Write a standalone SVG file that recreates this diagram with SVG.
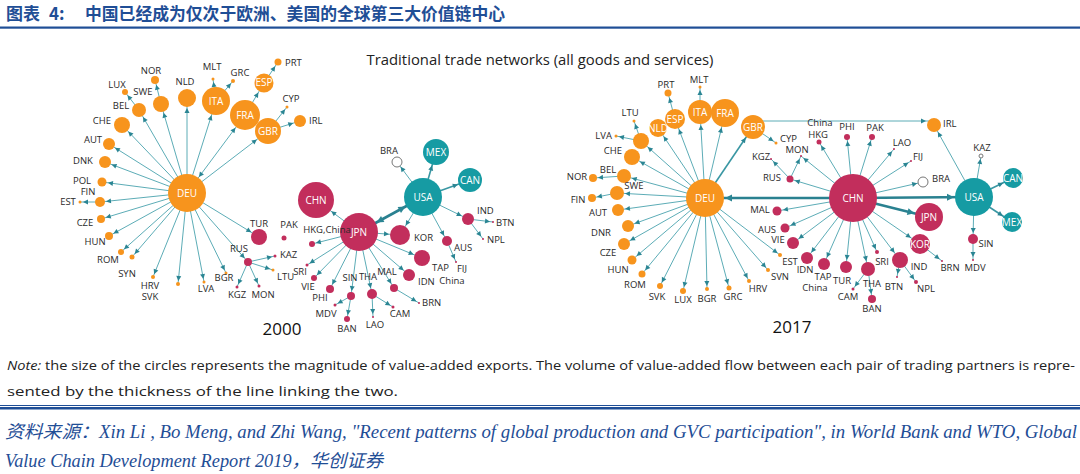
<svg xmlns="http://www.w3.org/2000/svg" width="1080" height="474" viewBox="0 0 1080 474">
<style>
.o{fill:#F7941D}.c{fill:#C22E5C}.t{fill:#169BA3}.h{fill:#fff;stroke:#777;stroke-width:1}
.lb{font-family:"Open Sans","Liberation Sans",sans-serif;font-size:9.5px;fill:#2a2a2a;text-anchor:middle}
.l{text-anchor:start}.r{text-anchor:end}
.w{font-family:"Open Sans","Liberation Sans",sans-serif;font-size:10px;fill:#fff;text-anchor:middle}
.e line,.e path{stroke:#4aa3ae;stroke-width:0.9;fill:none}
.e .m{stroke-width:1.6;stroke:#3a97a3}
.e .E{stroke:#2a8190;stroke-width:2.6}
.ah{fill:#2a8593}
.yr{font-family:"Open Sans","Liberation Sans",sans-serif;font-size:17px;fill:#111;text-anchor:middle}
.src{font-family:"Liberation Serif","Noto Sans CJK SC",serif;font-style:italic;font-size:18px;fill:#1F4E96}
.note{font-family:"Open Sans","Liberation Sans",sans-serif;font-size:13px;fill:#222}
</style>
<defs>
<marker id="a2" markerUnits="userSpaceOnUse" markerWidth="5" markerHeight="5" refX="8" refY="2.5" orient="auto" overflow="visible"><path class="ah" d="M0,0L5,2.5L0,5z"/></marker>
<marker id="a3" markerUnits="userSpaceOnUse" markerWidth="5" markerHeight="5" refX="9" refY="2.5" orient="auto" overflow="visible"><path class="ah" d="M0,0L5,2.5L0,5z"/></marker>
<marker id="a4" markerUnits="userSpaceOnUse" markerWidth="5" markerHeight="5" refX="10" refY="2.5" orient="auto" overflow="visible"><path class="ah" d="M0,0L5,2.5L0,5z"/></marker>
<marker id="a5" markerUnits="userSpaceOnUse" markerWidth="5" markerHeight="5" refX="11" refY="2.5" orient="auto" overflow="visible"><path class="ah" d="M0,0L5,2.5L0,5z"/></marker>
<marker id="a6" markerUnits="userSpaceOnUse" markerWidth="5" markerHeight="5" refX="12" refY="2.5" orient="auto" overflow="visible"><path class="ah" d="M0,0L5,2.5L0,5z"/></marker>
<marker id="a7" markerUnits="userSpaceOnUse" markerWidth="5" markerHeight="5" refX="13" refY="2.5" orient="auto" overflow="visible"><path class="ah" d="M0,0L5,2.5L0,5z"/></marker>
<marker id="a8" markerUnits="userSpaceOnUse" markerWidth="5" markerHeight="5" refX="14" refY="2.5" orient="auto" overflow="visible"><path class="ah" d="M0,0L5,2.5L0,5z"/></marker>
<marker id="a9" markerUnits="userSpaceOnUse" markerWidth="5" markerHeight="5" refX="15" refY="2.5" orient="auto" overflow="visible"><path class="ah" d="M0,0L5,2.5L0,5z"/></marker>
<marker id="a10" markerUnits="userSpaceOnUse" markerWidth="5" markerHeight="5" refX="16" refY="2.5" orient="auto" overflow="visible"><path class="ah" d="M0,0L5,2.5L0,5z"/></marker>
<marker id="a12" markerUnits="userSpaceOnUse" markerWidth="5" markerHeight="5" refX="18" refY="2.5" orient="auto" overflow="visible"><path class="ah" d="M0,0L5,2.5L0,5z"/></marker>
<marker id="a13" markerUnits="userSpaceOnUse" markerWidth="5" markerHeight="5" refX="19" refY="2.5" orient="auto" overflow="visible"><path class="ah" d="M0,0L5,2.5L0,5z"/></marker>
<marker id="a14" markerUnits="userSpaceOnUse" markerWidth="5" markerHeight="5" refX="20" refY="2.5" orient="auto" overflow="visible"><path class="ah" d="M0,0L5,2.5L0,5z"/></marker>
<marker id="a15" markerUnits="userSpaceOnUse" markerWidth="5" markerHeight="5" refX="21" refY="2.5" orient="auto" overflow="visible"><path class="ah" d="M0,0L5,2.5L0,5z"/></marker>
<marker id="a18" markerUnits="userSpaceOnUse" markerWidth="5" markerHeight="5" refX="24" refY="2.5" orient="auto" overflow="visible"><path class="ah" d="M0,0L5,2.5L0,5z"/></marker>
<marker id="b19" markerUnits="userSpaceOnUse" markerWidth="5" markerHeight="5" refX="25" refY="2.5" orient="auto-start-reverse" overflow="visible"><path class="ah" d="M0,0L5,2.5L0,5z"/></marker>
<marker id="T19" markerUnits="userSpaceOnUse" markerWidth="7" markerHeight="7" refX="27" refY="3.5" orient="auto-start-reverse" overflow="visible"><path class="ah" d="M0,0L7,3.5L0,7z"/></marker>
<marker id="T14" markerUnits="userSpaceOnUse" markerWidth="7" markerHeight="7" refX="22" refY="3.5" orient="auto" overflow="visible"><path class="ah" d="M0,0L7,3.5L0,7z"/></marker>
</defs>
<rect width="1080" height="474" fill="#fff"/>
<g id="title">
<text y="20" font-family="'Noto Sans CJK SC',sans-serif" font-weight="bold" font-size="17" fill="#1F4E96"><tspan x="6">图表</tspan><tspan x="49">4:</tspan><tspan x="85" textLength="420" lengthAdjust="spacingAndGlyphs">中国已经成为仅次于欧洲、美国的全球第三大价值链中心</tspan></text>
<rect x="0" y="26.5" width="1080" height="2.2" fill="#1F4E96"/>
</g>
<text x="540" y="65" font-family="'Open Sans','Liberation Sans',sans-serif" font-size="14" fill="#222" text-anchor="middle" textLength="347" lengthAdjust="spacingAndGlyphs">Traditional trade networks (all goods and services)</text>

<g id="connectors" class="e">
<!-- 2000 -->
<line x1="187" y1="193" x2="187" y2="98" marker-end="url(#a9)"/>
<line x1="187" y1="193" x2="216" y2="101" marker-end="url(#a14)"/>
<line x1="187" y1="193" x2="245" y2="115" marker-end="url(#a15)" marker-start="url(#b19)"/>
<line x1="187" y1="193" x2="268" y2="131" marker-end="url(#a13)"/>
<line x1="187" y1="193" x2="161" y2="104" marker-end="url(#a8)"/>
<line x1="187" y1="193" x2="139" y2="110" marker-end="url(#a7)"/>
<line x1="187" y1="193" x2="122" y2="125" marker-end="url(#a8)"/>
<line x1="187" y1="193" x2="109" y2="144" marker-end="url(#a6)"/>
<line x1="187" y1="193" x2="105" y2="162" marker-end="url(#a6)"/>
<line x1="187" y1="193" x2="102" y2="182" marker-end="url(#a5)"/>
<line x1="187" y1="193" x2="100" y2="202" marker-end="url(#a5)"/>
<line x1="187" y1="193" x2="101" y2="219" marker-end="url(#a4)"/>
<line x1="187" y1="193" x2="109" y2="236" marker-end="url(#a4)"/>
<line x1="187" y1="193" x2="121" y2="252" marker-end="url(#a3)"/>
<line x1="187" y1="193" x2="132" y2="257" marker-end="url(#a3)"/>
<line x1="187" y1="193" x2="153" y2="277" marker-end="url(#a2)"/>
<line x1="187" y1="193" x2="178" y2="284" marker-end="url(#a2)"/>
<line x1="187" y1="193" x2="204" y2="282" marker-end="url(#a2)"/>
<line x1="187" y1="193" x2="226" y2="273" marker-end="url(#a2)"/>
<line x1="187" y1="193" x2="259" y2="237" marker-end="url(#a8)"/>
<line x1="187" y1="193" x2="248" y2="262" marker-end="url(#a4)"/>
<line x1="161" y1="104" x2="155" y2="80" marker-end="url(#a4)"/>
<line x1="139" y1="110" x2="125" y2="92" marker-end="url(#a3)"/>
<line x1="100" y1="202" x2="80" y2="202" marker-end="url(#a2)"/>
<line x1="216" y1="101" x2="213" y2="79" marker-end="url(#a2)"/>
<line x1="216" y1="101" x2="233" y2="81" marker-end="url(#a2)"/>
<line x1="245" y1="115" x2="264" y2="83" marker-end="url(#a10)"/>
<line x1="264" y1="83" x2="278" y2="62" marker-end="url(#a4)"/>
<line x1="268" y1="131" x2="287" y2="107" marker-end="url(#a2)"/>
<line x1="268" y1="131" x2="300" y2="121" marker-end="url(#a6)"/>
<line x1="248" y1="262" x2="237" y2="287" marker-end="url(#a2)"/>
<line x1="248" y1="262" x2="259" y2="286" marker-end="url(#a2)"/>
<line x1="248" y1="262" x2="275" y2="256" marker-end="url(#a2)"/>
<line x1="248" y1="262" x2="273" y2="270" marker-end="url(#a2)"/>
<line x1="359" y1="232" x2="316" y2="200" marker-end="url(#a18)"/>
<line x1="359" y1="232" x2="312" y2="244" marker-end="url(#a3)"/>
<line x1="359" y1="232" x2="307" y2="265" marker-end="url(#a2)"/>
<line x1="359" y1="232" x2="314" y2="278" marker-end="url(#a3)"/>
<line x1="359" y1="232" x2="330" y2="289" marker-end="url(#a4)"/>
<line x1="359" y1="232" x2="351" y2="296" marker-end="url(#a4)"/>
<line x1="359" y1="232" x2="372" y2="294" marker-end="url(#a5)"/>
<line x1="359" y1="232" x2="394" y2="288" marker-end="url(#a4)"/>
<line x1="359" y1="232" x2="409" y2="275" marker-end="url(#a6)"/>
<line x1="359" y1="232" x2="422" y2="258" marker-end="url(#a8)"/>
<line x1="359" y1="232" x2="400" y2="235" marker-end="url(#a10)"/>
<line class="E" x1="359" y1="232" x2="423" y2="197" marker-end="url(#T19)" marker-start="url(#T19)"/>
<line x1="351" y1="296" x2="335" y2="305" marker-end="url(#a2)"/>
<line x1="351" y1="296" x2="347" y2="319" marker-end="url(#a3)"/>
<line x1="372" y1="294" x2="393" y2="307" marker-end="url(#a2)"/>
<line x1="372" y1="294" x2="373" y2="317" marker-end="url(#a2)"/>
<line x1="394" y1="288" x2="419" y2="303" marker-end="url(#a2)"/>
<line x1="423" y1="197" x2="397" y2="162" marker-end="url(#a5)"/>
<line class="m" x1="423" y1="197" x2="436" y2="152" marker-end="url(#a13)"/>
<line class="m" x1="423" y1="197" x2="470" y2="180" marker-end="url(#a12)"/>
<line x1="423" y1="197" x2="400" y2="235" marker-end="url(#a10)"/>
<line x1="423" y1="197" x2="447" y2="241" marker-end="url(#a5)"/>
<line x1="423" y1="197" x2="468" y2="219" marker-end="url(#a6)"/>
<line x1="468" y1="219" x2="493" y2="222" marker-end="url(#a2)"/>
<line x1="468" y1="219" x2="483" y2="239" marker-end="url(#a2)"/>
<line x1="447" y1="241" x2="456" y2="262" marker-end="url(#a2)"/>
<!-- 2017 -->
<line x1="705" y1="198" x2="658" y2="128" marker-end="url(#a9)"/>
<line x1="705" y1="198" x2="675" y2="119" marker-end="url(#a10)"/>
<line x1="705" y1="198" x2="700" y2="112" marker-end="url(#a12)"/>
<line x1="705" y1="198" x2="725" y2="113" marker-end="url(#a14)"/>
<line class="m" x1="705" y1="198" x2="753" y2="127" marker-end="url(#a12)"/>
<line x1="705" y1="198" x2="641" y2="141" marker-end="url(#a8)"/>
<line x1="705" y1="198" x2="632" y2="157" marker-end="url(#a8)"/>
<line x1="705" y1="198" x2="624" y2="176" marker-end="url(#a7)"/>
<line x1="705" y1="198" x2="617" y2="193" marker-end="url(#a7)"/>
<line x1="705" y1="198" x2="618" y2="210" marker-end="url(#a6)"/>
<line x1="705" y1="198" x2="628" y2="226" marker-end="url(#a6)"/>
<line x1="705" y1="198" x2="624" y2="244" marker-end="url(#a6)"/>
<line x1="705" y1="198" x2="632" y2="260" marker-end="url(#a5)"/>
<line x1="705" y1="198" x2="642" y2="274" marker-end="url(#a4)"/>
<line x1="705" y1="198" x2="660" y2="286" marker-end="url(#a3)"/>
<line x1="705" y1="198" x2="683" y2="291" marker-end="url(#a3)"/>
<line x1="705" y1="198" x2="707" y2="289" marker-end="url(#a2)"/>
<line x1="705" y1="198" x2="729" y2="288" marker-end="url(#a3)"/>
<line x1="705" y1="198" x2="749" y2="281" marker-end="url(#a2)"/>
<line x1="705" y1="198" x2="768" y2="270" marker-end="url(#a2)"/>
<line x1="705" y1="198" x2="780" y2="255" marker-end="url(#a2)"/>
<line x1="641" y1="141" x2="634" y2="121" marker-end="url(#a2)"/>
<line x1="641" y1="141" x2="616" y2="136" marker-end="url(#a2)"/>
<line x1="624" y1="176" x2="593" y2="178" marker-end="url(#a4)"/>
<line x1="617" y1="193" x2="592" y2="198" marker-end="url(#a4)"/>
<line x1="675" y1="119" x2="668" y2="93" marker-end="url(#a4)"/>
<line x1="700" y1="112" x2="700" y2="87" marker-end="url(#a2)"/>
<line x1="753" y1="127" x2="776" y2="143" marker-end="url(#a2)"/>
<path d="M762,121 L934,121" marker-end="url(#a7)"/>
<line class="E" x1="853" y1="198" x2="705" y2="198" marker-end="url(#T19)"/>
<line class="E" x1="853" y1="198" x2="974" y2="197" marker-end="url(#T19)"/>
<line class="E" x1="853" y1="198" x2="929" y2="217" marker-end="url(#T14)"/>
<line x1="853" y1="198" x2="920" y2="244" marker-end="url(#a10)"/>
<line x1="853" y1="198" x2="900" y2="260" marker-end="url(#a8)"/>
<line x1="853" y1="198" x2="877" y2="252" marker-end="url(#a2)"/>
<line x1="853" y1="198" x2="868" y2="269" marker-end="url(#a7)"/>
<line x1="853" y1="198" x2="846" y2="267" marker-end="url(#a6)"/>
<line x1="853" y1="198" x2="824" y2="264" marker-end="url(#a6)"/>
<line x1="853" y1="198" x2="807" y2="258" marker-end="url(#a6)"/>
<line x1="853" y1="198" x2="793" y2="243" marker-end="url(#a6)"/>
<line x1="853" y1="198" x2="785" y2="228" marker-end="url(#a5)"/>
<line x1="853" y1="198" x2="777" y2="211" marker-end="url(#a5)"/>
<line x1="853" y1="198" x2="790" y2="179" marker-end="url(#a4)"/>
<line x1="853" y1="198" x2="801" y2="156" marker-end="url(#a2)"/>
<line x1="853" y1="198" x2="819" y2="142" marker-end="url(#a3)"/>
<line x1="853" y1="198" x2="847" y2="137" marker-end="url(#a3)"/>
<line x1="853" y1="198" x2="872" y2="137" marker-end="url(#a3)"/>
<line x1="853" y1="198" x2="894" y2="149" marker-end="url(#a2)"/>
<line x1="853" y1="198" x2="911" y2="161" marker-end="url(#a2)"/>
<line x1="853" y1="198" x2="923" y2="182" marker-end="url(#a5)"/>
<line x1="790" y1="179" x2="771" y2="159" marker-end="url(#a2)"/>
<line x1="790" y1="179" x2="801" y2="156" marker-end="url(#a2)"/>
<line x1="868" y1="269" x2="853" y2="289" marker-end="url(#a2)"/>
<line x1="868" y1="269" x2="872" y2="299" marker-end="url(#a4)"/>
<line x1="900" y1="260" x2="897" y2="277" marker-end="url(#a2)"/>
<line x1="900" y1="260" x2="916" y2="282" marker-end="url(#a2)"/>
<line x1="920" y1="244" x2="942" y2="261" marker-end="url(#a2)"/>
<line x1="974" y1="197" x2="934" y2="125" marker-end="url(#a7)"/>
<line x1="974" y1="197" x2="981" y2="156" marker-end="url(#a2)"/>
<line class="m" x1="974" y1="197" x2="1013" y2="178" marker-end="url(#a10)"/>
<line class="m" x1="974" y1="197" x2="1012" y2="222" marker-end="url(#a10)"/>
<line x1="974" y1="197" x2="973" y2="239" marker-end="url(#a5)"/>
<line x1="973" y1="239" x2="973" y2="260" marker-end="url(#a2)"/>
</g>

<g id="nodes-2000">
<g id="deu0"><circle class="o" cx="187" cy="193" r="19"/><text class="w" x="187" y="197" font-size="10.5">DEU</text></g>
<g id="nld0"><circle class="o" cx="187" cy="98" r="9"/><text class="lb" x="185" y="85.4">NLD</text></g>
<g id="ita0"><circle class="o" cx="216" cy="101" r="14"/><text class="w" x="216" y="104.5">ITA</text></g>
<g id="fra0"><circle class="o" cx="245" cy="115" r="15"/><text class="w" x="245" y="118.5">FRA</text></g>
<g id="gbr0"><circle class="o" cx="268" cy="131" r="13"/><text class="w" x="268" y="134.5">GBR</text></g>
<g id="esp0"><circle class="o" cx="264" cy="83" r="9.5"/><text class="w" x="264" y="86" font-size="8">ESP</text></g>
<g id="prt0"><circle class="o" cx="278" cy="62" r="3.5"/><text class="lb l" x="285" y="66.4">PRT</text></g>
<g id="mlt0"><circle class="o" cx="213" cy="79" r="1.5"/><text class="lb" x="212" y="70.4">MLT</text></g>
<g id="grc0"><circle class="o" cx="233" cy="81" r="2"/><text class="lb" x="240" y="76.4">GRC</text></g>
<g id="cyp0"><circle class="o" cx="287" cy="107" r="1.5"/><text class="lb" x="291" y="102.4">CYP</text></g>
<g id="irl0"><circle class="o" cx="300" cy="121" r="6"/><text class="lb l" x="309" y="124.4">IRL</text></g>
<g id="swe0"><circle class="o" cx="161" cy="104" r="8"/><text class="lb" x="143" y="95.4">SWE</text></g>
<g id="nor0"><circle class="o" cx="155" cy="80" r="4"/><text class="lb" x="151" y="74.4">NOR</text></g>
<g id="lux0"><circle class="o" cx="125" cy="92" r="3"/><text class="lb" x="117" y="88.4">LUX</text></g>
<g id="bel0"><circle class="o" cx="139" cy="110" r="7"/><text class="lb" x="121" y="109.4">BEL</text></g>
<g id="che0"><circle class="o" cx="122" cy="125" r="8"/><text class="lb" x="102" y="124.4">CHE</text></g>
<g id="aut0"><circle class="o" cx="109" cy="144" r="6"/><text class="lb" x="93" y="143.4">AUT</text></g>
<g id="dnk0"><circle class="o" cx="105" cy="162" r="6"/><text class="lb" x="83" y="164.4">DNK</text></g>
<g id="pol0"><circle class="o" cx="102" cy="182" r="4.5"/><text class="lb" x="82" y="184.4">POL</text></g>
<g id="fin0"><circle class="o" cx="100" cy="202" r="5"/><text class="lb" x="88" y="195.4">FIN</text></g>
<g id="est0"><circle class="o" cx="80" cy="202" r="1.5"/><text class="lb" x="68" y="205.4">EST</text></g>
<g id="cze0"><circle class="o" cx="101" cy="219" r="4"/><text class="lb" x="85" y="226.4">CZE</text></g>
<g id="hun0"><circle class="o" cx="109" cy="236" r="4"/><text class="lb" x="95" y="245.4">HUN</text></g>
<g id="rom0"><circle class="o" cx="121" cy="252" r="3"/><text class="lb" x="108" y="263.4">ROM</text></g>
<g id="syn0"><circle class="o" cx="132" cy="257" r="2.5"/><text class="lb" x="127" y="277.4">SYN</text></g>
<g id="hrv0"><circle class="o" cx="153" cy="277" r="2"/><text class="lb" x="150" y="289.4">HRV</text></g>
<g id="svk0"><circle class="o" cx="178" cy="284" r="2"/><text class="lb" x="150" y="300.4">SVK</text></g>
<g id="lva0"><circle class="o" cx="204" cy="282" r="1.5"/><text class="lb" x="206" y="292.4">LVA</text></g>
<g id="bgr0"><circle class="o" cx="226" cy="273" r="1.5"/><text class="lb" x="224" y="281.4">BGR</text></g>
<g id="ltu0"><circle class="o" cx="273" cy="270" r="1.5"/><text class="lb l" x="277" y="280.4">LTU</text></g>
<g id="tur0"><circle class="c" cx="259" cy="237" r="8"/><text class="lb" x="259" y="227.4">TUR</text></g>
<g id="rus0"><circle class="c" cx="248" cy="262" r="4"/><text class="lb" x="239" y="252.4">RUS</text></g>
<g id="kgz0"><circle class="c" cx="237" cy="287" r="1.5"/><text class="lb" x="237" y="298.4">KGZ</text></g>
<g id="mon0"><circle class="c" cx="259" cy="286" r="1.5"/><text class="lb" x="263" y="298.4">MON</text></g>
<g id="kaz0"><circle class="c" cx="275" cy="256" r="1.5"/><text class="lb l" x="280" y="258.4">KAZ</text></g>
<g id="chn0"><circle class="c" cx="316" cy="200" r="18"/><text class="w" x="316" y="204">CHN</text></g>
<g id="pak0"><circle class="c" cx="284" cy="238" r="2.5"/><text class="lb" x="289" y="228.4">PAK</text></g>
<g id="jpn0"><circle class="c" cx="359" cy="232" r="19"/><text class="w" x="359" y="236">JPN</text></g>
<g id="hkg0"><circle class="c" cx="312" cy="244" r="3"/><text class="lb" x="327" y="233.4">HKG,China</text></g>
<g id="kor0"><circle class="c" cx="400" cy="235" r="10"/><text class="lb l" x="414" y="241.4">KOR</text></g>
<g id="tap0"><circle class="c" cx="422" cy="258" r="8"/><text class="lb l" x="432" y="271.4">TAP</text><text class="lb" x="452" y="284.4">China</text></g>
<g id="idn0"><circle class="c" cx="409" cy="275" r="6"/><text class="lb l" x="418" y="285.4">IDN</text></g>
<g id="mal0"><circle class="c" cx="394" cy="288" r="4"/><text class="lb" x="387" y="275.4">MAL</text></g>
<g id="brn0"><circle class="c" cx="419" cy="303" r="1"/><text class="lb l" x="422" y="306.4">BRN</text></g>
<g id="tha0"><circle class="c" cx="372" cy="294" r="5"/><text class="lb" x="368" y="280.4">THA</text></g>
<g id="sin0"><circle class="c" cx="351" cy="296" r="4"/><text class="lb" x="350" y="281.4">SIN</text></g>
<g id="phi0"><circle class="c" cx="330" cy="289" r="4"/><text class="lb" x="320" y="301.4">PHI</text></g>
<g id="vie0"><circle class="c" cx="314" cy="278" r="3"/><text class="lb" x="308" y="290.4">VIE</text></g>
<g id="sri0"><circle class="c" cx="307" cy="265" r="1.5"/><text class="lb" x="300" y="275.4">SRI</text></g>
<g id="mdv0"><circle class="c" cx="335" cy="305" r="1.5"/><text class="lb" x="326" y="317.4">MDV</text></g>
<g id="ban0"><circle class="c" cx="347" cy="319" r="3"/><text class="lb" x="347" y="332.4">BAN</text></g>
<g id="cam0"><circle class="c" cx="393" cy="307" r="1.5"/><text class="lb" x="400" y="317.4">CAM</text></g>
<g id="lao0"><circle class="c" cx="373" cy="317" r="1"/><text class="lb" x="375" y="328.4">LAO</text></g>
<g id="aus0"><circle class="c" cx="447" cy="241" r="5"/><text class="lb l" x="454" y="251.4">AUS</text></g>
<g id="fij0"><circle class="c" cx="456" cy="262" r="1"/><text class="lb" x="462" y="272.4">FIJ</text></g>
<g id="ind0"><circle class="c" cx="468" cy="219" r="6"/><text class="lb l" x="477" y="214.4">IND</text></g>
<g id="btn0"><circle class="c" cx="493" cy="222" r="1"/><text class="lb l" x="496" y="226.4">BTN</text></g>
<g id="npl0"><circle class="c" cx="483" cy="239" r="1"/><text class="lb l" x="487" y="243.4">NPL</text></g>
<g id="usa0"><circle class="t" cx="423" cy="197" r="19"/><text class="w" x="423" y="201">USA</text></g>
<g id="mex0"><circle class="t" cx="436" cy="152" r="13"/><text class="w" x="436" y="155.5" font-size="9">MEX</text></g>
<g id="can0"><circle class="t" cx="470" cy="180" r="12"/><text class="w" x="470" y="183.5" font-size="9">CAN</text></g>
<g id="bra0"><circle class="h" cx="397" cy="162" r="5"/><text class="lb" x="389" y="154.4">BRA</text></g>
<text class="yr" x="282" y="335">2000</text>
</g>

<g id="nodes-2017">
<g id="deu1"><circle class="o" cx="705" cy="198" r="19"/><text class="w" x="705" y="202" font-size="10.5">DEU</text></g>
<g id="nld1"><circle class="o" cx="658" cy="128" r="9"/><text class="w" x="658" y="131.5" font-size="8.5">NLD</text></g>
<g id="esp1"><circle class="o" cx="675" cy="119" r="10"/><text class="w" x="675" y="122.5" font-size="8.5">ESP</text></g>
<g id="ita1"><circle class="o" cx="700" cy="112" r="12"/><text class="w" x="700" y="115.5">ITA</text></g>
<g id="fra1"><circle class="o" cx="725" cy="113" r="14"/><text class="w" x="725" y="116.5">FRA</text></g>
<g id="gbr1"><circle class="o" cx="753" cy="127" r="12"/><text class="w" x="753" y="130.5">GBR</text></g>
<g id="prt1"><circle class="o" cx="668" cy="93" r="3.5"/><text class="lb" x="666" y="88.4">PRT</text></g>
<g id="mlt1"><circle class="o" cx="700" cy="87" r="1.5"/><text class="lb" x="699" y="83.4">MLT</text></g>
<g id="ltu1"><circle class="o" cx="634" cy="121" r="1.5"/><text class="lb" x="630" y="116.4">LTU</text></g>
<g id="lva1"><circle class="o" cx="616" cy="136" r="1.5"/><text class="lb r" x="612" y="139.4">LVA</text></g>
<g id="pol1"><circle class="o" cx="641" cy="141" r="8"/></g>
<g id="che1"><circle class="o" cx="632" cy="157" r="8"/><text class="lb" x="613" y="154.4">CHE</text></g>
<g id="bel1"><circle class="o" cx="624" cy="176" r="7"/><text class="lb" x="608" y="173.4">BEL</text></g>
<g id="nor1"><circle class="o" cx="593" cy="178" r="4"/><text class="lb" x="577" y="180.4">NOR</text></g>
<g id="swe1"><circle class="o" cx="617" cy="193" r="7"/><text class="lb" x="634" y="189.4">SWE</text></g>
<g id="fin1"><circle class="o" cx="592" cy="198" r="4"/><text class="lb" x="578" y="203.4">FIN</text></g>
<g id="aut1"><circle class="o" cx="618" cy="210" r="6"/><text class="lb" x="598" y="216.4">AUT</text></g>
<g id="dnr1"><circle class="o" cx="628" cy="226" r="6"/><text class="lb" x="601" y="236.4">DNR</text></g>
<g id="cze1"><circle class="o" cx="624" cy="244" r="6"/><text class="lb" x="608" y="256.4">CZE</text></g>
<g id="hun1"><circle class="o" cx="632" cy="260" r="4.5"/><text class="lb" x="618" y="273.4">HUN</text></g>
<g id="rom1"><circle class="o" cx="642" cy="274" r="3.5"/><text class="lb" x="635" y="288.4">ROM</text></g>
<g id="svk1"><circle class="o" cx="660" cy="286" r="3"/><text class="lb" x="657" y="300.4">SVK</text></g>
<g id="lux1"><circle class="o" cx="683" cy="291" r="3"/><text class="lb" x="683" y="303.4">LUX</text></g>
<g id="bgr1"><circle class="o" cx="707" cy="289" r="2"/><text class="lb" x="707" y="302.4">BGR</text></g>
<g id="grc1"><circle class="o" cx="729" cy="288" r="2.5"/><text class="lb" x="733" y="300.4">GRC</text></g>
<g id="hrv1"><circle class="o" cx="749" cy="281" r="2"/><text class="lb" x="758" y="292.4">HRV</text></g>
<g id="svn1"><circle class="o" cx="768" cy="270" r="2"/><text class="lb" x="780" y="280.4">SVN</text></g>
<g id="est1"><circle class="o" cx="780" cy="255" r="2"/><text class="lb" x="790" y="265.4">EST</text></g>
<g id="cyp1"><circle class="o" cx="776" cy="143" r="1.5"/><text class="lb l" x="780" y="142.4">CYP</text></g>
<g id="irl1"><circle class="o" cx="934" cy="125" r="7"/><text class="lb l" x="943" y="127.4">IRL</text></g>
<g id="chn1"><circle class="c" cx="853" cy="198" r="24"/><text class="w" x="853" y="202" font-size="11">CHN</text></g>
<g id="rus1"><circle class="c" cx="790" cy="179" r="3.5"/><text class="lb" x="772" y="181.4">RUS</text></g>
<g id="kgz1"><circle class="c" cx="771" cy="159" r="1"/><text class="lb" x="761" y="160.4">KGZ</text></g>
<g id="mon1"><circle class="c" cx="801" cy="156" r="1"/><text class="lb" x="797" y="153.4">MON</text></g>
<g id="hkg1"><circle class="c" cx="819" cy="142" r="2.5"/><text class="lb" x="820" y="125.5">China</text><text class="lb" x="818" y="137.5">HKG</text></g>
<g id="phi1"><circle class="c" cx="847" cy="137" r="3"/><text class="lb" x="847" y="130.4">PHI</text></g>
<g id="pak1"><circle class="c" cx="872" cy="137" r="3"/><text class="lb" x="875" y="131.4">PAK</text></g>
<g id="lao1"><circle class="c" cx="894" cy="149" r="1"/><text class="lb" x="902" y="146.4">LAO</text></g>
<g id="fij1"><circle class="c" cx="911" cy="161" r="1"/><text class="lb" x="918" y="160.4">FIJ</text></g>
<g id="mal1"><circle class="c" cx="777" cy="211" r="4.5"/><text class="lb" x="760" y="213.4">MAL</text></g>
<g id="aus1"><circle class="c" cx="785" cy="228" r="4.5"/><text class="lb" x="767" y="233.4">AUS</text></g>
<g id="vie1"><circle class="c" cx="793" cy="243" r="6"/><text class="lb" x="778" y="243.4">VIE</text></g>
<g id="idn1"><circle class="c" cx="807" cy="258" r="6"/><text class="lb" x="805" y="273.4">IDN</text></g>
<g id="tap1"><circle class="c" cx="824" cy="264" r="6"/><text class="lb" x="823" y="280.4">TAP</text><text class="lb" x="815" y="291.4">China</text></g>
<g id="tur1"><circle class="c" cx="846" cy="267" r="6"/><text class="lb" x="842" y="284.4">TUR</text></g>
<g id="tha1"><circle class="c" cx="868" cy="269" r="7"/><text class="lb" x="872" y="287.4">THA</text></g>
<g id="cam1"><circle class="c" cx="853" cy="289" r="1.5"/><text class="lb" x="848" y="300.4">CAM</text></g>
<g id="ban1"><circle class="c" cx="872" cy="299" r="4"/><text class="lb" x="872" y="312.4">BAN</text></g>
<g id="sri1"><circle class="c" cx="877" cy="252" r="2"/><text class="lb" x="882" y="265.4">SRI</text></g>
<g id="ind1"><circle class="c" cx="900" cy="260" r="8"/><text class="lb" x="919" y="270.4">IND</text></g>
<g id="btn1"><circle class="c" cx="897" cy="277" r="1"/><text class="lb" x="894" y="290.4">BTN</text></g>
<g id="npl1"><circle class="c" cx="916" cy="282" r="2"/><text class="lb" x="926" y="292.4">NPL</text></g>
<g id="jpn1"><circle class="c" cx="929" cy="217" r="14"/><text class="w" x="929" y="220.5">JPN</text></g>
<g id="kor1"><circle class="c" cx="920" cy="244" r="10"/><text class="w" x="920" y="247.5" font-size="9">KOR</text></g>
<g id="brn1"><circle class="c" cx="942" cy="261" r="1"/><text class="lb" x="950" y="271.4">BRN</text></g>
<g id="sin1"><circle class="c" cx="973" cy="239" r="5"/><text class="lb" x="986" y="247.4">SIN</text></g>
<g id="mdv1"><circle class="c" cx="973" cy="260" r="1"/><text class="lb" x="975" y="271.4">MDV</text></g>
<g id="usa1"><circle class="t" cx="974" cy="197" r="19"/><text class="w" x="974" y="201">USA</text></g>
<g id="can1"><circle class="t" cx="1013" cy="178" r="10"/><text class="w" x="1013" y="181.5" font-size="8.5">CAN</text></g>
<g id="mex1"><circle class="t" cx="1012" cy="222" r="10"/><text class="w" x="1012" y="225.5" font-size="8.5">MEX</text></g>
<g id="kaz1"><circle class="h" cx="981" cy="156" r="2"/><text class="lb" x="982" y="151.4">KAZ</text></g>
<g id="bra1"><circle class="h" cx="923" cy="182" r="5"/><text class="lb l" x="932" y="182.4">BRA</text></g>
<text class="yr" x="792" y="333">2017</text>
</g>

<g id="notes">
<text class="note" x="7" y="370" textLength="1068" lengthAdjust="spacingAndGlyphs"><tspan font-style="italic">Note:</tspan> the size of the circles represents the magnitude of value-added exports. The volume of value-added flow between each pair of trading partners is repre-</text>
<text class="note" x="7" y="396" textLength="391" lengthAdjust="spacingAndGlyphs">sented by the thickness of the line linking the two.</text>
<rect x="0" y="405" width="1080" height="1" fill="#1F4E96"/>
<rect x="0" y="407" width="1080" height="2.5" fill="#1F4E96"/>
<text class="src" x="5" y="438" textLength="1072" lengthAdjust="spacingAndGlyphs">资料来源：Xin Li , Bo Meng, and Zhi Wang, "Recent patterns of global production and GVC participation", in World Bank and WTO, Global</text>
<text class="src" x="5" y="467" textLength="378" lengthAdjust="spacingAndGlyphs">Value Chain Development Report 2019，华创证券</text>
</g>
</svg>
